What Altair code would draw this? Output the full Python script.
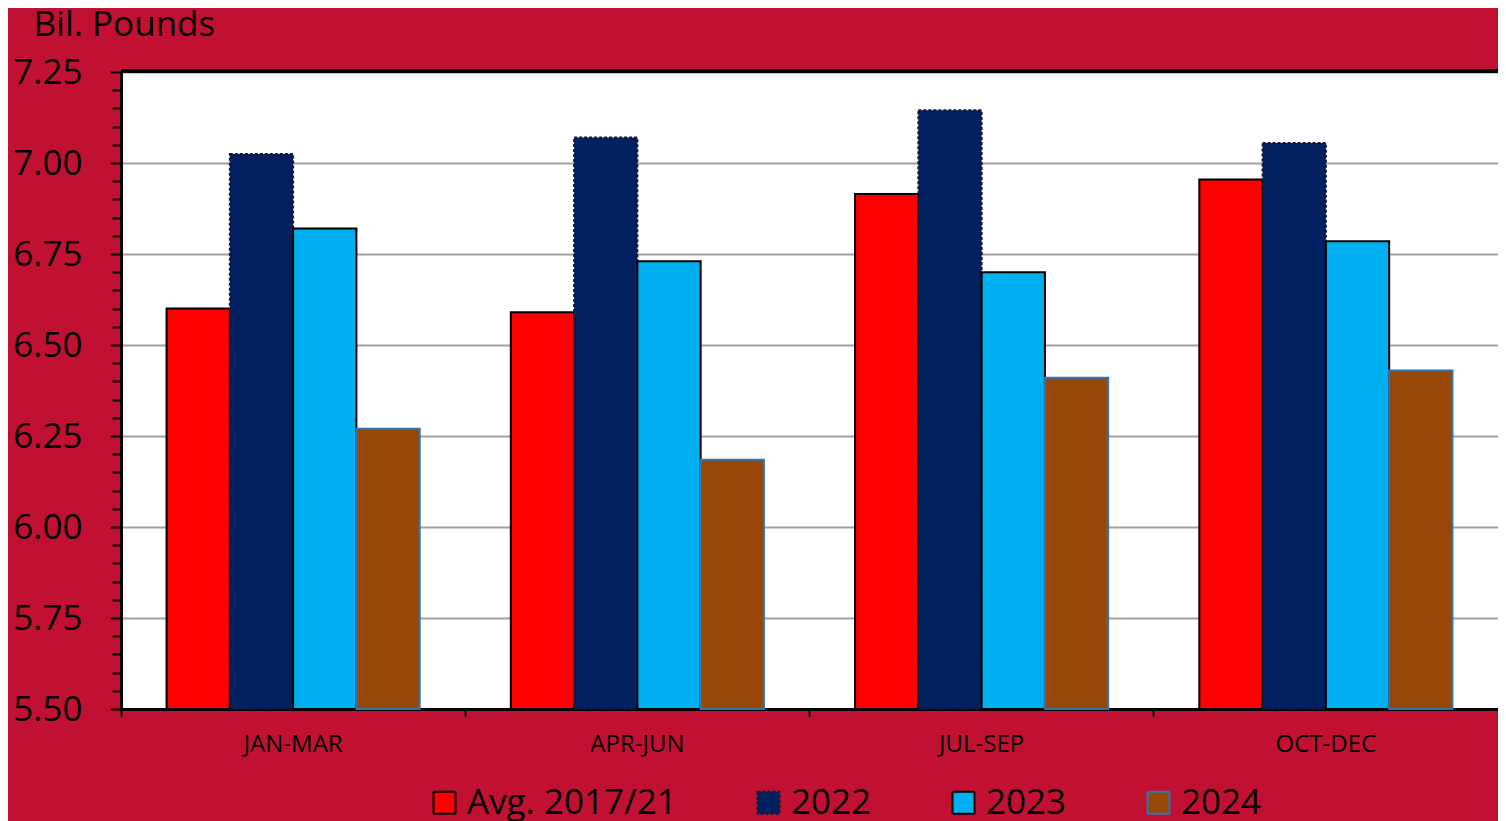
import altair as alt
import numpy as np
import pandas as pd

quarters = ["JAN-MAR", "APR-JUN", "JUL-SEP", "OCT-DEC"]
series_names = ["Avg. 2017/21", "2022", "2023", "2024"]
avg_1721 = [6.60, 6.59, 6.915, 6.955]
y2022 = [7.025, 7.07, 7.145, 7.055]
y2023 = [6.82, 6.73, 6.70, 6.785]
y2024 = [6.27, 6.185, 6.41, 6.43]

fills = ["#FF0000", "#002060", "#00B0F0", "#974706"]
strokes = ["#000000", "#101838", "#000000", "#2E75B6"]
dashes = [[1, 0], [3, 2], [1, 0], [1, 0]]

major_ticks = [5.50, 5.75, 6.00, 6.25, 6.50, 6.75, 7.00, 7.25]
all_ticks = [round(v, 2) for v in np.arange(5.50, 7.2501, 0.05)]

rows = []
for name, vals in zip(series_names, [avg_1721, y2022, y2023, y2024]):
    for q, v in zip(quarters, vals):
        rows.append({"quarter": q, "series": name, "value": v})
df = pd.DataFrame(rows)

FONT = "Open Sans"
W, H = 1377, 637
is_major = "abs(datum.value*4 - round(datum.value*4)) < 0.001"

bars = alt.Chart(df).mark_bar(strokeWidth=2).encode(
    x=alt.X(
        "quarter:N",
        sort=quarters,
        scale=alt.Scale(paddingInner=0, paddingOuter=0),
        axis=alt.Axis(
            title=None,
            bandPosition=0,
            labelAngle=0,
            labelFont=FONT,
            labelFontSize=24,
            labelColor="black",
            labelPadding=16,
            tickSize=7,
            tickWidth=2,
            tickColor="black",
            domainColor="black",
            domainWidth=3,
            grid=False,
        ),
    ),
    xOffset=alt.XOffset(
        "series:N",
        sort=series_names,
        scale=alt.Scale(paddingInner=0, paddingOuter=0.72),
    ),
    y=alt.Y(
        "value:Q",
        scale=alt.Scale(domain=[5.5, 7.25], nice=False, zero=False),
        axis=alt.Axis(
            values=all_ticks,
            labelExpr=f"{is_major} ? format(datum.value, '.2f') : ''",
            labelOverlap=False,
            labelFont=FONT,
            labelFontSize=35,
            labelColor="black",
            labelPadding=28,
            tickSize={"condition": {"test": is_major, "value": 11}, "value": 9},
            tickWidth=2,
            tickColor="black",
            domainColor="black",
            domainWidth=3,
            grid=True,
            gridColor="#A0A0A0",
            gridWidth=2,
            gridOpacity={"condition": {"test": is_major, "value": 1}, "value": 0},
            title="Bil. Pounds",
            titleAngle=0,
            titleX=-88,
            titleY=-37,
            titleAlign="left",
            titleBaseline="alphabetic",
            titleFont=FONT,
            titleFontSize=35,
            titleFontWeight="normal",
            titleColor="black",
        ),
    ),
    y2=alt.datum(5.5),
    fill=alt.Fill(
        "series:N",
        sort=series_names,
        scale=alt.Scale(domain=series_names, range=fills),
        legend=alt.Legend(
            title=None,
            orient="none",
            legendX=306,
            legendY=713,
            direction="horizontal",
            columns=4,
            columnPadding=74,
            symbolType="square",
            symbolSize=484,
            symbolStrokeWidth=2,
            labelFont=FONT,
            labelFontSize=35,
            labelColor="black",
            labelOffset=5,
            labelLimit=500,
            padding=0,
        ),
    ),
    stroke=alt.Stroke(
        "series:N",
        sort=series_names,
        scale=alt.Scale(domain=series_names, range=strokes),
        legend=alt.Legend(title=None),
    ),
    strokeDash=alt.StrokeDash(
        "series:N",
        sort=series_names,
        scale=alt.Scale(domain=series_names, range=dashes),
        legend=alt.Legend(title=None),
    ),
)

top_border = alt.Chart(pd.DataFrame({"k": [0]})).mark_rule(
    color="black", strokeWidth=4
).encode(y=alt.value(-1), x=alt.value(0), x2=alt.value(W))

chart = alt.layer(bars, top_border).properties(
    width=W,
    height=H,
    autosize=alt.AutoSizeParams(type="none"),
    padding={"left": 113, "top": 64, "right": 0, "bottom": 112},
    background="#C01133",
    title=alt.TitleParams(
        "US, Quarterly",
        anchor="middle",
        font=FONT,
        fontSize=35,
        fontWeight="normal",
        color="black",
        offset=58,
        dx=-29,
    ),
).configure_view(fill="white", stroke="transparent")

chart.save("out.html", embed_options={"renderer": "svg", "actions": False})
